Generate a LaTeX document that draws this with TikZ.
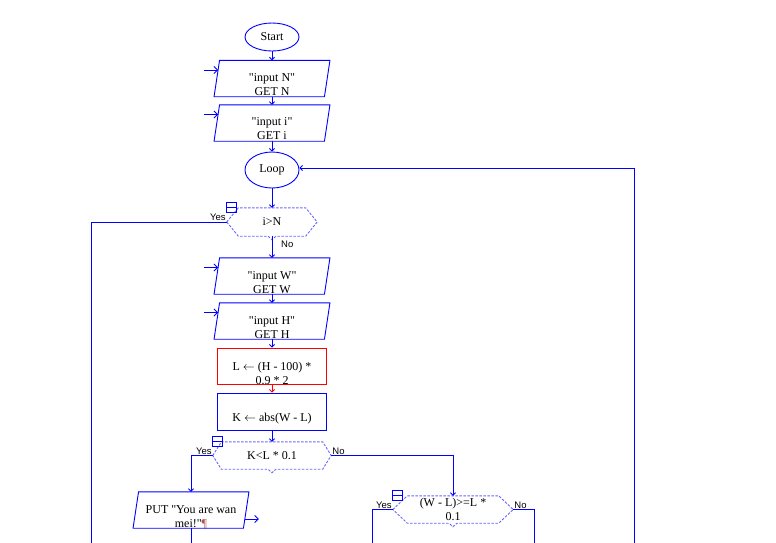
\documentclass[tikz,border=0pt]{standalone}
\usepackage{fontspec}
\setmainfont{Liberation Serif}[Ligatures=TeXOff]
\newfontfamily\lblfont{Liberation Sans}
\usetikzlibrary{positioning,shapes.geometric,arrows.meta}
\newcommand{\ioshape}[1]{%
  \draw[link] ([xshift=2.75pt]#1.north west) -- ([xshift=2.75pt]#1.north east)
    -- ([xshift=-2.75pt]#1.south east) -- ([xshift=-2.75pt]#1.south west) -- cycle;
}
\newcommand{\decshape}[2]{%
  \draw[decline] (#1.west) -- ([xshift=#2]#1.north west) -- ([xshift=-#2]#1.north east)
    -- (#1.east) -- ([xshift=-#2]#1.south east) -- ([xshift=4pt]#1.south)
    -- ([yshift=-3.5pt]#1.south) -- ([xshift=-4pt]#1.south) -- ([xshift=#2]#1.south west) -- cycle;
  \draw[link] ([yshift=5pt]#1.north west) rectangle ([shift={(9.5pt,-5pt)}]#1.north west);
  \draw[link] (#1.north west) -- ([xshift=9.5pt]#1.north west);
}
\tikzset{
  every node/.style={font=\fontsize{12}{14}\selectfont},
  term/.style={ellipse, draw=blue, line width=0.9pt, minimum width=54pt, inner sep=0pt},
  io/.style={rectangle, minimum width=110pt, minimum height=36pt, inner sep=0pt},
  proc/.style={rectangle, draw=blue, line width=0.9pt, minimum width=109pt, minimum height=36pt, inner sep=0pt},
  dec/.style={rectangle, minimum height=27pt, inner sep=0pt, align=center},
  txt/.style={align=center, inner sep=0pt},
  lbl/.style={font=\lblfont\fontsize{9.5}{10}\selectfont, inner sep=1pt},
  link/.style={blue, line width=0.9pt},
  flow/.style={link, -{Straight Barb[length=2.5pt,width=5pt]}},
  inflow/.style={link, -{Straight Barb[length=3.5pt,width=7pt]}},
  decline/.style={blue!60, line width=0.9pt, dash pattern=on 2.5pt off 1.5pt},
}

\begin{document}
\begin{tikzpicture}
  \useasboundingbox (0,0) rectangle (776pt,-542pt);

  \node[term, minimum height=28pt] (start) at (272pt,-37pt) {Start};
  \node[io, on grid, below=41.5pt of start] (inN) {};
  \node[io, on grid, below=44.5pt of inN] (inI) {};
  \node[term, on grid, below=47pt of inI, minimum height=36pt] (loop) {Loop};
  \node[dec, on grid, below=52pt of loop, minimum width=90pt, minimum height=28pt] (d1) {i>N};
  \node[io, on grid, below=54pt of d1] (inW) {};
  \node[io, on grid, below=45pt of inW] (inH) {};
  \node[proc, on grid, below=45pt of inH, draw=red] (Lb) {};
  \node[proc, on grid, below=45.5pt of Lb, minimum height=37pt] (Kb) {};
  \node[dec, on grid, below=44pt of Kb, minimum width=118pt] (d2) {K<L * 0.1};
  \node[io, on grid, below left=54.5pt and 81pt of d2] (put) {};
  \node[dec, on grid, below right=54pt and 181pt of d2, minimum width=120pt] (d3) {(W - L)>=L *\\0.1};

  % texts of the boxes
  \node[txt, on grid, below=6.5pt of inN] (tN) {"input N"\\GET N};
  \node[txt, on grid, below=6pt of inI] (tI) {"input i"\\GET i};
  \node[txt, on grid, below=7pt of inW] (tW) {"input W"\\GET W};
  \node[txt, on grid, below=7pt of inH] (tH) {"input H"\\GET H};
  \node[txt, on grid, below=7pt of Lb] (tL) {L $\leftarrow$ (H - 100) *\\0.9 * 2};
  \node[txt, on grid, below=7pt of Kb] (tK) {K $\leftarrow$ abs(W - L)};
  \node[txt, on grid, below=7pt of put] (tP) {PUT "You are wan\\mei!"\textcolor{red!35!gray}{¶}};

  \ioshape{inN}
  \ioshape{inI}
  \ioshape{inW}
  \ioshape{inH}
  \ioshape{put}
  \decshape{d1}{11.5pt}
  \decshape{d2}{8.5pt}
  \decshape{d3}{14.5pt}

  \coordinate (e1) at (91pt,-545pt);
  \coordinate (e2) at (191pt,-545pt);
  \coordinate (e3) at (372pt,-545pt);
  \coordinate (e4) at (534pt,-545pt);
  \coordinate (e5) at (634pt,-545pt);

  \draw[flow] (start) -- (inN);
  \draw[flow] (inN) -- (inI);
  \draw[flow] (inI) -- (loop);
  \draw[flow] (loop) -- (d1);
  \draw[flow] (d1) -- (inW);
  \draw[flow] (inW) -- (inH);
  \draw[flow] (inH) -- (Lb);
  \draw[flow, red] (Lb) -- (Kb);
  \draw[flow] (Kb) -- (d2);
  \draw[link] (d1.west) -| (e1);
  \draw[flow] (d2.west) -| (put);
  \draw[flow] (d2.east) -| (d3);
  \draw[link] (put) -- (e2);
  \draw[link] (d3.west) -| (e3);
  \draw[link] (d3.east) -| (e4);
  \draw[flow] (e5) |- ([yshift=2pt]loop.east);

  % input and output marks
  \draw[inflow] ([shift={(-13pt,8.5pt)}]inN.west) -- ([shift={(1.3pt,8.5pt)}]inN.west);
  \draw[inflow] ([shift={(-13pt,8.5pt)}]inI.west) -- ([shift={(1.3pt,8.5pt)}]inI.west);
  \draw[inflow] ([shift={(-13pt,8.5pt)}]inW.west) -- ([shift={(1.3pt,8.5pt)}]inW.west);
  \draw[inflow] ([shift={(-13pt,8.5pt)}]inH.west) -- ([shift={(1.3pt,8.5pt)}]inH.west);
  \draw[inflow] ([shift={(-1.4pt,-9pt)}]put.east) -- ++(14pt,0);

  \node[lbl, anchor=south east] (y1) at (d1.west) {Yes};
  \node[lbl, anchor=north west] (n1) at ([shift={(8pt,-4pt)}]d1.south) {No};
  \node[lbl, anchor=south east] (y2) at (d2.west) {Yes};
  \node[lbl, anchor=south west] (n2) at (d2.east) {No};
  \node[lbl, anchor=south east] (y3) at (d3.west) {Yes};
  \node[lbl, anchor=south west] (n3) at (d3.east) {No};
\end{tikzpicture}
\end{document}
